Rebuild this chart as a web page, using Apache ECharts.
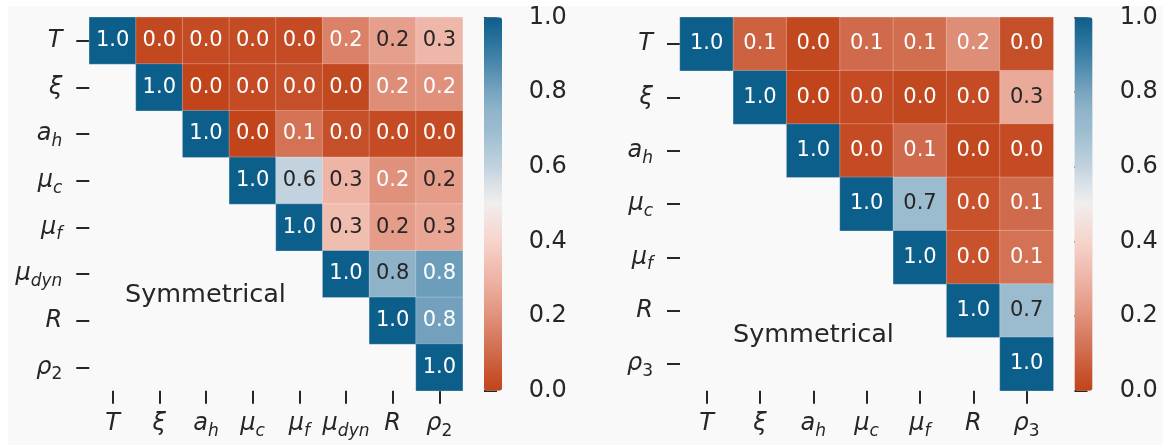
<!DOCTYPE html>
<html>
<head>
<meta charset="utf-8">
<script src="https://cdn.jsdelivr.net/npm/echarts@6/dist/echarts.min.js"></script>
<style>
  html, body { margin: 0; padding: 0; background: #ffffff; }
  #chart { position: absolute; left: 0; top: 0; width: 1163px; height: 445px; }
</style>
</head>
<body>
<div id="chart"></div>
<script>
// Parameter names (underscore marks a subscript)
const catsA = ['T', 'ξ', 'a_h', 'μ_c', 'μ_f', 'μ_dyn', 'R', 'ρ_2'];
const catsB = ['T', 'ξ', 'a_h', 'μ_c', 'μ_f', 'R', 'ρ_3'];

// Upper-triangular correlation magnitudes (null = lower triangle, left blank)
const corrA = [
  [1.00, 0.01, 0.02, 0.02, 0.02, 0.16, 0.24, 0.31],
  [null, 1.00, 0.00, 0.02, 0.03, 0.01, 0.19, 0.20],
  [null, null, 1.00, 0.00, 0.12, 0.03, 0.02, 0.02],
  [null, null, null, 1.00, 0.60, 0.30, 0.20, 0.23],
  [null, null, null, null, 1.00, 0.33, 0.23, 0.26],
  [null, null, null, null, null, 1.00, 0.755, 0.82],
  [null, null, null, null, null, null, 1.00, 0.81],
  [null, null, null, null, null, null, null, 1.00]
];
const corrB = [
  [1.00, 0.08, 0.01, 0.10, 0.11, 0.19, 0.03],
  [null, 1.00, 0.00, 0.02, 0.01, 0.02, 0.27],
  [null, null, 1.00, 0.02, 0.10, 0.01, 0.02],
  [null, null, null, 1.00, 0.70, 0.04, 0.10],
  [null, null, null, null, 1.00, 0.04, 0.12],
  [null, null, null, null, null, 1.00, 0.70],
  [null, null, null, null, null, null, 1.00]
];

// Colour bar ticks
const cbarTicks = [0.0, 0.2, 0.4, 0.6, 0.8, 1.0];

// Diverging colour map, stops every 0.05 from 0 to 1
const cmapStops = [
  '#c1441b', '#c85630', '#d06a4c', '#d87d62', '#e0917b', '#e8a391', '#eeb4a6',
  '#f2c4b9', '#f6d4cc', '#f4e0dc', '#f0eeee', '#dbe2e8', '#c2d2de', '#aec7d6',
  '#9bbccf', '#90b4c9', '#78a4bf', '#5a92b3', '#3c7fa5', '#246e98', '#0c5e8b'
];

const FONT = 'DejaVu Sans';
const INK = '#262626';

function hexRgb(h) {
  return [parseInt(h.slice(1, 3), 16), parseInt(h.slice(3, 5), 16), parseInt(h.slice(5, 7), 16)];
}
function colorAt(v) {
  const n = cmapStops.length - 1;
  const t = Math.max(0, Math.min(1, v)) * n;
  const i = Math.min(n - 1, Math.floor(t));
  const f = t - i;
  const a = hexRgb(cmapStops[i]), b = hexRgb(cmapStops[i + 1]);
  return a.map((c, k) => c + (b[k] - c) * f);
}
function luminance(rgb) {
  const lin = rgb.map(c => {
    c /= 255;
    return c <= 0.03928 ? c / 12.92 : Math.pow((c + 0.055) / 1.055, 2.4);
  });
  return 0.2126 * lin[0] + 0.7152 * lin[1] + 0.0722 * lin[2];
}
// Annotation colour: dark text on light cells, white text on dark cells
function textColor(v) {
  return luminance(colorAt(v)) > 0.408 ? INK : '#ffffff';
}
function toCells(rows) {
  const out = [];
  rows.forEach((row, r) => row.forEach((v, c) => {
    if (v === null) return;
    out.push({ value: [c, r, v], label: { color: textColor(v) } });
  }));
  return out;
}
function richName(name) {
  const p = name.split('_');
  if (p.length === 1) return '{m|' + p[0] + '}';
  const style = /^\d+$/.test(p[1]) ? 'd' : 's';
  return '{m|' + p[0] + '}{' + style + '|' + p[1] + '}';
}
const rich = {
  m: { fontFamily: FONT, fontSize: 24, fontStyle: 'italic', color: INK, lineHeight: 32 },
  s: { fontFamily: FONT, fontSize: 17, fontStyle: 'italic', color: INK, lineHeight: 17, verticalAlign: 'bottom' },
  d: { fontFamily: FONT, fontSize: 17, color: INK, lineHeight: 17, verticalAlign: 'bottom' }
};
const tick = { show: true, alignWithLabel: true, interval: 0, length: 13, lineStyle: { color: INK, width: 2 } };

const grids = [
  { left: 89.3, top: 17.3, width: 373.4, height: 373.4 },
  { left: 680, top: 17.3, width: 373.3, height: 373.4 },
  { left: 484, top: 17.3, width: 17.7, height: 373.4 },
  { left: 1074.5, top: 17.3, width: 18.2, height: 373.4 }
];

function catX(idx, cats) {
  return {
    type: 'category', gridIndex: idx, data: cats, position: 'bottom',
    axisLine: { show: false }, axisTick: tick, splitLine: { show: false },
    axisLabel: { interval: 0, margin: 17, formatter: richName, rich: rich }
  };
}
function catY(idx, cats) {
  return {
    type: 'category', gridIndex: idx, data: cats, inverse: true, position: 'left',
    axisLine: { show: false }, axisTick: tick, splitLine: { show: false },
    axisLabel: { interval: 0, margin: 27, formatter: richName, rich: rich, align: 'right' }
  };
}
function cbarX(idx) {
  return { type: 'value', gridIndex: idx, show: false, min: 0, max: 1 };
}
function cbarY(idx) {
  return {
    type: 'value', gridIndex: idx, position: 'right', min: 0, max: 1, interval: 0.2,
    axisLine: { show: false }, splitLine: { show: false },
    axisTick: { show: true, length: 13, lineStyle: { color: INK, width: 2 } },
    axisLabel: {
      margin: 27, fontFamily: FONT, fontSize: 24, color: INK,
      customValues: cbarTicks, formatter: v => v.toFixed(1)
    }
  };
}
function heat(idx, rows) {
  return {
    type: 'heatmap', xAxisIndex: idx, yAxisIndex: idx, data: toCells(rows),
    itemStyle: { borderColor: 'rgba(255,255,255,0.25)', borderWidth: 1 },
    label: {
      show: true, fontFamily: FONT, fontSize: 21,
      formatter: p => p.value[2].toFixed(1)
    },
    emphasis: { disabled: true }
  };
}
function cmap(seriesIndex, left) {
  return {
    type: 'continuous', seriesIndex: seriesIndex, min: 0, max: 1,
    calculable: false, hoverLink: false, realtime: false,
    left: left, top: 17.3, padding: 0, itemWidth: 18, itemHeight: 373.4,
    text: null, showLabel: false,
    inRange: { color: cmapStops }
  };
}

const chart = echarts.init(document.getElementById('chart'), null, { renderer: 'canvas' });
chart.setOption({
  animation: false,
  backgroundColor: '#ffffff',
  graphic: [
    { type: 'rect', z: -10, silent: true, shape: { x: 8, y: 6, width: 1155, height: 439 },
      style: { fill: '#f9f9f9' } },
    { type: 'text', left: 125, top: 282, silent: true,
      style: { text: 'Symmetrical', fontFamily: FONT, fontSize: 25.5, fill: INK } },
    { type: 'text', left: 733, top: 322, silent: true,
      style: { text: 'Symmetrical', fontFamily: FONT, fontSize: 25.5, fill: INK } }
  ],
  grid: grids,
  xAxis: [catX(0, catsA), catX(1, catsB), cbarX(2), cbarX(3)],
  yAxis: [catY(0, catsA), catY(1, catsB), cbarY(2), cbarY(3)],
  visualMap: [cmap(0, 484), cmap(1, 1074.5)],
  series: [
    heat(0, corrA),
    heat(1, corrB),
    { type: 'scatter', xAxisIndex: 2, yAxisIndex: 2, data: [] },
    { type: 'scatter', xAxisIndex: 3, yAxisIndex: 3, data: [] }
  ]
});
</script>
</body>
</html>
